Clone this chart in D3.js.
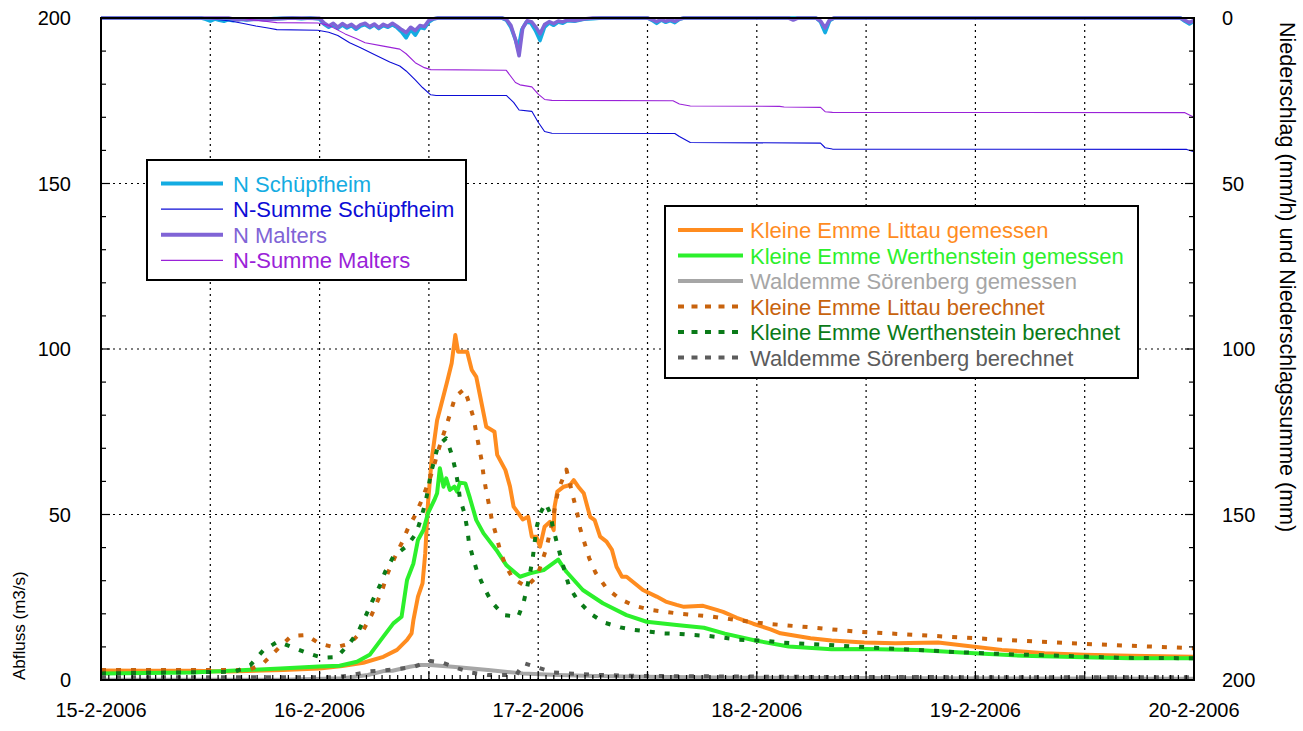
<!DOCTYPE html>
<html><head><meta charset="utf-8">
<script src="https://cdn.jsdelivr.net/npm/d3@7/dist/d3.min.js"></script>
<style>
body{margin:0;background:#fff;}
text{font-family:"Liberation Sans",Arial,Helvetica,sans-serif;}
</style></head>
<body><svg id="c" width="1303" height="731"></svg>
<script>
// ---------- data (time in hours after 15-2-2006 00:00) ----------
const xTickLabels = ["15-2-2006","16-2-2006","17-2-2006","18-2-2006","19-2-2006","20-2-2006"];
const yLeftTicks = [0,50,100,150,200];
const yRightTicks = [0,50,100,150,200];

// Niederschlag (mm/h)
const nSchuepfheim = [[0,0],[11,0],[11.5,0.4],[12,0.9],[12.5,0.3],[13,0.7],[13.5,1.0],[14,0.5],[14.5,0.8],[15,0.4],[16,0.6],[17,0.3],[18,0.4],[19,0.2],[20,0.1],[21,0],[22,0.2],[23,0],[24,0.3],[24.5,1.9],[25,2.8],[25.5,2.0],[26,3.1],[26.5,2.1],[27,3.0],[27.5,2.3],[28,3.4],[28.5,2.4],[29,2.0],[29.5,2.9],[30,2.1],[30.5,3.2],[31,2.3],[31.5,2.8],[32,2.0],[32.5,2.9],[33,4.2],[33.5,6.0],[34,3.5],[34.5,5.2],[35,2.9],[35.5,3.2],[36,1.2],[36.5,0.3],[37,0],[44,0],[44.5,0.6],[45,2.8],[45.5,6.5],[45.8,9.4],[46.2,3.5],[46.7,1.2],[47.2,1.5],[47.7,3.8],[48.2,6.8],[48.7,2.8],[49.2,1.5],[49.7,2.2],[50.2,1.2],[50.7,1.6],[51.2,0.8],[52,1.0],[53,0.4],[54,0.2],[55,0],[60,0],[60.5,0.7],[61,1.6],[61.5,0.6],[62,1.3],[62.5,0.8],[63,1.4],[63.5,0.4],[64,0],[78.5,0],[79,1.2],[79.5,4.4],[80,0.8],[80.5,0],[118.5,0],[119,1.0],[119.5,1.8],[120,1.0]];
const nMalters = [[0,0],[14,0],[14.5,0.3],[15,0.6],[15.5,0.3],[16,0.5],[17,0.4],[18,0.6],[19,0.3],[20,0.1],[21,0],[24,0.1],[24.5,1.5],[25,2.4],[25.5,1.6],[26,2.8],[26.5,1.7],[27,2.6],[27.5,1.9],[28,3.0],[28.5,2.0],[29,1.6],[29.5,2.6],[30,1.8],[30.5,2.9],[31,1.9],[31.5,2.5],[32,1.6],[32.5,2.5],[33,3.5],[33.5,4.4],[34,2.8],[34.5,3.8],[35,2.3],[35.5,2.6],[36,0.7],[36.5,0.2],[37,0],[44,0],[44.5,0.4],[45,2.2],[45.5,6.5],[45.9,11.4],[46.3,3.0],[46.8,0.8],[47.3,1.2],[47.8,3.0],[48.2,4.8],[48.7,2.0],[49.2,1.1],[49.7,1.7],[50.2,0.9],[50.7,1.2],[51.2,0.6],[52,0.8],[53,0.3],[54,0],[60,0],[60.5,0.5],[61,1.1],[61.5,0.4],[62,1.0],[62.5,0.5],[63,1.0],[63.5,0.3],[64,0],[75.5,0],[76,0.6],[76.5,0],[78.5,0],[79,0.9],[79.5,3.0],[80,0.5],[80.5,0],[118.5,0],[119,0.7],[119.5,1.4],[120,0.7]];
// Niederschlagssumme (mm)
const sumSchuepfheim = [[0,0],[11.4,0],[12.5,0.4],[14.2,0.9],[15.5,1.6],[17,2.4],[18.5,3.1],[19.3,3.5],[23.8,3.7],[25,4.3],[26,5.3],[27.3,7.5],[28.5,9.0],[30,11.0],[31.7,13.3],[32.8,14.5],[33.5,16],[34.5,18.7],[35.3,21],[36.2,23.2],[36.8,23.4],[44.5,23.4],[45.3,25.5],[45.9,27.8],[47.3,28.2],[48.0,31.5],[48.7,34.3],[49.5,34.8],[63.0,34.9],[63.5,35.8],[64.7,37.6],[79.0,37.8],[79.5,39.2],[80.3,39.6],[119.2,39.7],[120,40.4]];
const sumMalters = [[0,0],[15.5,0],[16.5,0.5],[18,1.0],[19.3,1.4],[23.8,1.5],[25,2.2],[26.8,4.8],[28,6.2],[29,7.5],[31,8.5],[32.8,9.4],[33.5,10.8],[34.5,13.5],[35.5,15.0],[36.2,15.6],[44.5,15.8],[45.5,19.5],[46,20.2],[47.3,20.8],[48.0,23.0],[48.7,24.6],[49.5,24.9],[62.8,25.0],[63.5,26.0],[64.7,26.6],[74.5,26.7],[75,26.9],[79.0,27.0],[79.5,28.3],[80.3,28.5],[119.0,28.6],[120,30.0]];

// Abfluss (m3/s)
const littauGem = [[0,2.9],[5,2.8],[10,2.8],[14,2.6],[20,3.0],[24,3.5],[26.5,4.2],[28.8,5.2],[31,7.0],[32.5,9.1],[33.6,12.1],[34.1,14.1],[34.3,18.1],[34.8,25.2],[35.3,29.2],[35.6,38.3],[35.9,53.4],[36.3,66.5],[36.9,78.5],[37.2,81.6],[38.0,90.1],[38.5,95.7],[38.9,104.2],[39.2,99.2],[40.2,99.2],[40.7,93.7],[41.2,91.6],[41.6,86.1],[42.3,76.5],[43.2,75],[43.5,68],[44.4,63.4],[44.9,58.5],[45.3,52.4],[46.3,48.5],[46.9,49.3],[47.3,43.3],[47.8,43.3],[48.2,40.3],[48.7,46.3],[49.3,47.8],[49.7,45.3],[49.8,52.4],[50.1,56.9],[50.8,58.4],[51.5,58.9],[51.9,60.4],[52.4,58.4],[53.0,56.4],[53.7,49.3],[54.2,48.3],[54.8,43.3],[55.5,41.8],[56.1,39.3],[56.6,34.2],[57.2,31.2],[57.7,31.2],[59.5,27.2],[61.0,25.2],[62.0,23.7],[63.2,22.7],[64.0,22.1],[66.1,22.4],[67.6,21.2],[68.3,20.6],[69.8,18.8],[71.6,17.0],[73.5,15.3],[74.6,14.1],[77.9,12.6],[80.2,11.9],[83.8,11.3],[87.2,11.1],[91.9,11.3],[94.7,10.4],[98.9,9.1],[103.6,8.1],[107.9,7.6],[113,7.3],[120,7.0]];
const werthensteinGem = [[0,2.0],[10,2.3],[14.2,2.8],[19.7,3.5],[23.9,4.1],[26.2,4.3],[28.1,5.5],[29.5,7.6],[31.0,13.1],[32.1,17.1],[33.0,19.1],[33.6,30.2],[34.3,35.2],[34.8,42.3],[35.4,45.3],[35.9,50.4],[36.6,54.4],[36.9,56.4],[37.2,64.0],[37.6,58.4],[37.9,60.9],[38.3,57.4],[38.8,58.4],[39.1,56.9],[39.4,59.6],[40.0,59.4],[40.5,55],[41.2,48.3],[42.0,44.3],[43.4,39.3],[44.5,34.7],[46.0,31.2],[47.1,32.2],[48.6,33.2],[50.2,36.4],[51.1,32.7],[52.9,27.2],[55.1,23.2],[57.7,19.6],[59.9,17.6],[63.2,16.6],[64.0,16.4],[66.2,15.8],[68.5,14.0],[71.7,12.0],[75.5,10.1],[80.2,9.3],[83.8,9.4],[89.6,9.1],[95.9,8.1],[101.2,7.3],[107.9,6.9],[113,6.6],[120,6.6]];
const soerenbergGem = [[0,0.1],[20,0.1],[26.6,0.5],[29.3,1.5],[31.0,2.7],[32.0,2.8],[33.9,4.0],[35.0,4.5],[36.1,4.5],[38.6,4.0],[42.5,3.0],[46.3,2.0],[50.2,1.5],[54.1,1.2],[59.8,1.0],[70,0.7],[90,0.5],[120,0.4]];
const littauBer = [[0,3.0],[16.2,3.0],[17.8,5.0],[19.3,9.1],[20.9,13.3],[22.5,13.6],[24.0,11.0],[25.7,9.8],[27.3,11.0],[28.8,15.1],[29.7,19.6],[30.3,23.4],[31.0,28.2],[31.5,32.4],[32.3,37.3],[33.0,41.3],[33.7,45.8],[34.5,49.8],[35.3,54.9],[35.9,59.4],[36.5,64.0],[36.9,68.2],[37.4,72.6],[37.9,76.7],[38.4,81.1],[38.9,85.6],[39.9,87.9],[40.4,83.8],[40.9,79.2],[41.2,74.7],[41.5,70.4],[41.8,66.2],[42.0,61.8],[42.3,57.0],[42.6,52.9],[42.9,48.5],[43.4,43.6],[43.8,39.3],[44.4,34.7],[45.2,30.7],[46.7,28.2],[47.9,31.4],[48.9,39.8],[49.5,47.3],[50.2,57.4],[51.1,63.6],[51.9,54.6],[52.3,50.2],[52.6,45.8],[53.1,41.3],[53.6,36.8],[54.3,32.4],[55.5,27.7],[57.0,24.4],[58.6,22.4],[60.3,21.2],[63.6,20.0],[66.9,19.2],[69.8,18.1],[73.1,17.0],[77.9,15.9],[83.0,14.6],[89.6,13.6],[96.1,12.6],[102.7,11.6],[110.6,10.6],[119.0,9.7],[120,9.6]];
const werthensteinBer = [[0,2.0],[14.7,2.5],[16.4,4.5],[17.8,8.9],[19.4,11.6],[21.0,9.9],[22.7,8.1],[24.3,6.7],[25.9,6.9],[27.3,11.1],[28.3,14.9],[29.1,19.6],[29.8,23.9],[30.6,28.4],[31.2,32.7],[32.1,37.3],[33.6,40.5],[34.6,44.3],[35.1,48.5],[35.6,53.4],[35.9,57.4],[36.2,62.2],[36.6,66.5],[37.0,70.8],[37.9,73.0],[38.5,68.2],[38.9,63.7],[39.2,59.2],[39.4,54.9],[39.9,50.4],[40.2,45.8],[40.4,41.5],[40.8,37.3],[41.3,32.7],[42.0,28.2],[42.9,23.5],[44.2,19.6],[45.8,19.1],[46.4,23.5],[46.8,28.2],[47.1,32.2],[47.4,36.8],[47.6,41.3],[47.8,45.8],[48.2,50.2],[48.8,53.4],[49.3,50.5],[49.6,46.3],[50.0,42.0],[50.9,32.9],[51.4,28.2],[52.3,24.2],[53.8,19.9],[55.3,17.3],[57.0,15.9],[58.6,15.1],[60.3,14.6],[61.7,14.1],[63.6,13.9],[65.0,13.6],[66.7,13.3],[68.3,12.8],[70.0,12.2],[71.6,12.0],[73.1,11.8],[74.8,11.3],[79.8,10.6],[84.7,9.8],[89.6,9.1],[94.2,8.4],[99.4,7.8],[105.7,7.3],[112.3,6.7],[118.8,6.6],[120,6.6]];
const soerenbergBer = [[0,0.8],[25,0.8],[27,1.2],[28.4,2.0],[29.5,2.6],[30.9,2.9],[32.6,3.3],[34.4,4.0],[36.0,5.8],[37.4,5.3],[39.2,3.5],[40.7,2.2],[42.5,1.5],[45.6,1.5],[46.4,5.1],[48.0,3.7],[49.7,2.3],[51.3,2.0],[54.8,1.5],[60,1.2],[80,0.9],[120,0.8]];

const legend1 = ["N Schüpfheim","N-Summe Schüpfheim","N Malters","N-Summe Malters"];
const legend2 = ["Kleine Emme Littau gemessen","Kleine Emme Werthenstein gemessen","Waldemme Sörenberg gemessen","Kleine Emme Littau berechnet","Kleine Emme Werthenstein berechnet","Waldemme Sörenberg berechnet"];

// ---------- drawing ----------
const L=101,R=1194,T=18,B=680;
const svg=d3.select("#c");
const x=d3.scaleLinear().domain([0,120]).range([L,R]);
const y=d3.scaleLinear().domain([0,200]).range([B,T]);
const y2=d3.scaleLinear().domain([0,200]).range([T,B]);

// grid
const g=svg.append("g");
d3.range(12,120,12).forEach(h=>{
  g.append("line").attr("x1",x(h)).attr("x2",x(h)).attr("y1",T).attr("y2",B)
   .attr("stroke","#000").attr("stroke-width",1.2).attr("stroke-dasharray","2,4");
});
[50,100,150].forEach(v=>{
  g.append("line").attr("x1",L).attr("x2",R).attr("y1",y(v)).attr("y2",y(v))
   .attr("stroke","#000").attr("stroke-width",1.2).attr("stroke-dasharray","2,4");
});

const lineL=d3.line().x(d=>x(d[0])).y(d=>y(d[1]));
const lineR=d3.line().x(d=>x(d[0])).y(d=>y2(d[1]));
svg.append("clipPath").attr("id","pc").append("rect").attr("x",L).attr("y",T-3).attr("width",R-L+2).attr("height",B-T+4);
const plot=svg.append("g").attr("clip-path","url(#pc)");

const col={nS:"#14ace2",sS:"#0c0cd6",nM:"#8064d6",sM:"#9a22d8",
  lG:"#ff8c1f",wG:"#2cf02c",sG:"#a6a6a6",lB:"#c8630d",wB:"#0a7a18",sB:"#5c5c5c"};

function draw(data,fn,c,w,dash){
  const p=plot.append("path").datum(data).attr("d",fn).attr("fill","none")
   .attr("stroke",c).attr("stroke-width",w).attr("stroke-linejoin","round");
  if(dash) p.attr("stroke-dasharray",dash).attr("stroke-linecap","butt");
}
draw(nSchuepfheim,lineR,col.nS,3.6);
draw(sumSchuepfheim,lineR,col.sS,1.1);
draw(nMalters,lineR,col.nM,3.6);
draw(sumMalters,lineR,col.sM,1.1);
draw(littauGem,lineL,col.lG,4);
draw(werthensteinGem,lineL,col.wG,4);
draw(soerenbergGem,lineL,col.sG,4);
draw(littauBer,lineL,col.lB,4,"5,10");
draw(werthensteinBer,lineL,col.wB,4,"5,10");
draw(soerenbergBer,lineL,col.sB,4,"5,10");

// frame
svg.append("rect").attr("x",L).attr("y",T).attr("width",R-L).attr("height",B-T)
  .attr("fill","none").attr("stroke","#000").attr("stroke-width",2);

// ticks
const tk=svg.append("g").attr("stroke","#000").attr("stroke-width",1.2);
d3.range(0,201,10).forEach(v=>{
  const len=(v%50===0)?9:5;
  tk.append("line").attr("x1",L).attr("x2",L+len).attr("y1",y(v)).attr("y2",y(v));
  tk.append("line").attr("x1",R).attr("x2",R-len).attr("y1",y(v)).attr("y2",y(v));
});
d3.range(0,14*10+1).forEach(i=>{
  const h=i*12/14; const len=(i%14===0)?9:5;
  tk.append("line").attr("x1",x(h)).attr("x2",x(h)).attr("y1",B).attr("y2",B-len);
});

// tick labels
yLeftTicks.forEach(v=>{
  svg.append("text").attr("x",71).attr("y",y(v)+7).attr("text-anchor","end")
   .attr("font-size",20).text(v);
});
yRightTicks.forEach(v=>{
  svg.append("text").attr("x",1222).attr("y",y2(v)+7).attr("text-anchor","start")
   .attr("font-size",20).text(v);
});
xTickLabels.forEach((s,i)=>{
  svg.append("text").attr("x",x(i*24)).attr("y",717).attr("text-anchor","middle")
   .attr("font-size",20).text(s);
});

// axis titles
svg.append("text").attr("transform","translate(25,680) rotate(-90)")
  .attr("text-anchor","start").attr("font-size",17).text("Abfluss (m3/s)");
svg.append("text").attr("transform","translate(1280,22) rotate(90)")
  .attr("text-anchor","start").attr("font-size",21.5).text("Niederschlag (mm/h) und Niederschlagssumme (mm)");

// legend 1
const lg1=svg.append("g");
lg1.append("rect").attr("x",147).attr("y",160).attr("width",319).attr("height",120)
  .attr("fill","#fff").attr("stroke","#000").attr("stroke-width",2);
const l1c=[col.nS,col.sS,col.nM,col.sM], l1w=[4,1.2,4,1.2];
legend1.forEach((s,i)=>{
  const yy=183.5+i*25.6;
  lg1.append("line").attr("x1",161).attr("x2",223).attr("y1",yy).attr("y2",yy)
    .attr("stroke",l1c[i]).attr("stroke-width",l1w[i]);
  lg1.append("text").attr("x",233).attr("y",yy+8).attr("font-size",22).attr("fill",l1c[i]).text(s);
});

// legend 2
const lg2=svg.append("g");
lg2.append("rect").attr("x",665).attr("y",206).attr("width",473).attr("height",172)
  .attr("fill","#fff").attr("stroke","#000").attr("stroke-width",2);
const l2c=[col.lG,col.wG,col.sG,col.lB,col.wB,col.sB];
legend2.forEach((s,i)=>{
  const yy=230+i*25.5;
  const ln=lg2.append("line").attr("x1",678).attr("x2",743).attr("y1",yy).attr("y2",yy)
    .attr("stroke",l2c[i]).attr("stroke-width",4);
  if(i>=3) ln.attr("stroke-dasharray","6,7.5");
  lg2.append("text").attr("x",750).attr("y",yy+8).attr("font-size",22).attr("fill",l2c[i]).text(s);
});
</script></body></html>
